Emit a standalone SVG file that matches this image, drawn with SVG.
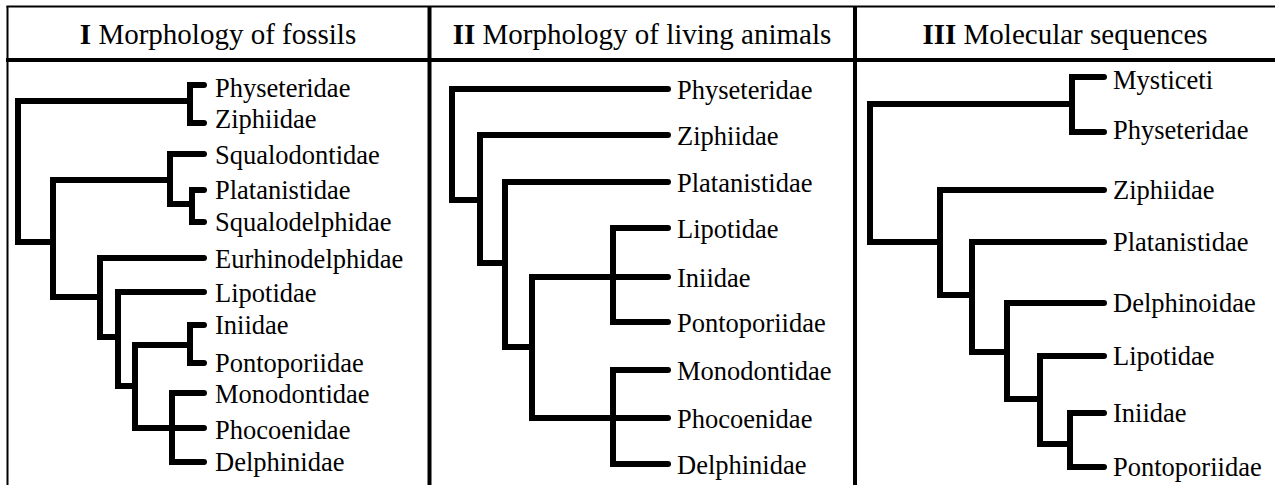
<svg xmlns="http://www.w3.org/2000/svg" width="1275" height="485" viewBox="0 0 1275 485">
<style>
.frame{stroke:#000;fill:none}
.br{stroke:#000;stroke-width:6;fill:none;stroke-linecap:round;stroke-linejoin:miter}
.t{font-family:"Liberation Serif","Times New Roman",serif;font-size:26.5px;fill:#000}
.h{font-family:"Liberation Serif","Times New Roman",serif;font-size:29px;fill:#000;text-anchor:middle}
.b{font-weight:bold}
</style>
<rect width="1275" height="485" fill="#fff"/>
<g id="frame">
<line class="frame" x1="6.5" y1="6.5" x2="1275" y2="6.5" stroke-width="2"/>
<line class="frame" x1="7.5" y1="6" x2="7.5" y2="485" stroke-width="2"/>
<line class="frame" x1="6" y1="60" x2="1275" y2="60" stroke-width="4"/>
<line class="frame" x1="429.5" y1="6" x2="429.5" y2="485" stroke-width="4"/>
<line class="frame" x1="855" y1="6" x2="855" y2="485" stroke-width="4"/>
</g>
<g id="headers">
<g id="h1"><text class="h" x="218" y="44"><tspan class="b">I</tspan> Morphology of fossils</text></g>
<g id="h2"><text class="h" x="642" y="44"><tspan class="b">II</tspan> Morphology of living animals</text></g>
<g id="h3"><text class="h" x="1065" y="44"><tspan class="b">III</tspan> Molecular sequences</text></g>
</g>
<g id="connectors">
<g id="tree1">
<path class="br" d="M53 242 H18 V101 H190"/>
<path class="br" d="M204 85 H190 V123 H204"/>
<path class="br" d="M170 180 H53 V297 H100"/>
<path class="br" d="M204 154 H170 V204 H192"/>
<path class="br" d="M204 190 H192 V222 H204"/>
<path class="br" d="M204 258 H100 V337 H118"/>
<path class="br" d="M204 292 H118 V386 H135"/>
<path class="br" d="M190 345 H135 V428 H204"/>
<path class="br" d="M204 325 H190 V363 H204"/>
<path class="br" d="M204 393 H172 V462 H204"/>
</g>
<g id="tree2">
<path class="br" d="M668 89 H452 V200 H480"/>
<path class="br" d="M668 135 H480 V263 H505"/>
<path class="br" d="M668 182 H505 V347 H532"/>
<path class="br" d="M668 277 H532 V418 H668"/>
<path class="br" d="M668 228 H613 V322 H668"/>
<path class="br" d="M668 370 H613 V464 H668"/>
</g>
<g id="tree3">
<path class="br" d="M940 242 H870 V104 H1072"/>
<path class="br" d="M1104 77 H1072 V132 H1104"/>
<path class="br" d="M1104 190 H940 V295 H972"/>
<path class="br" d="M1104 242 H972 V352 H1007"/>
<path class="br" d="M1104 303 H1007 V399 H1040"/>
<path class="br" d="M1104 356 H1040 V444 H1070"/>
<path class="br" d="M1104 413 H1070 V467 H1104"/>
</g>
</g>
<g id="panel1">
<g id="p1-physeteridae"><text class="t" x="215" y="97">Physeteridae</text></g>
<g id="p1-ziphiidae"><text class="t" x="215" y="128">Ziphiidae</text></g>
<g id="p1-squalodontidae"><text class="t" x="215" y="164">Squalodontidae</text></g>
<g id="p1-platanistidae"><text class="t" x="215" y="199">Platanistidae</text></g>
<g id="p1-squalodelphidae"><text class="t" x="215" y="231">Squalodelphidae</text></g>
<g id="p1-eurhinodelphidae"><text class="t" x="215" y="268">Eurhinodelphidae</text></g>
<g id="p1-lipotidae"><text class="t" x="215" y="302">Lipotidae</text></g>
<g id="p1-iniidae"><text class="t" x="215" y="334">Iniidae</text></g>
<g id="p1-pontoporiidae"><text class="t" x="215" y="372">Pontoporiidae</text></g>
<g id="p1-monodontidae"><text class="t" x="215" y="403">Monodontidae</text></g>
<g id="p1-phocoenidae"><text class="t" x="215" y="439">Phocoenidae</text></g>
<g id="p1-delphinidae"><text class="t" x="215" y="471">Delphinidae</text></g>
</g>
<g id="panel2">
<g id="p2-physeteridae"><text class="t" x="677" y="99">Physeteridae</text></g>
<g id="p2-ziphiidae"><text class="t" x="677" y="145">Ziphiidae</text></g>
<g id="p2-platanistidae"><text class="t" x="677" y="192">Platanistidae</text></g>
<g id="p2-lipotidae"><text class="t" x="677" y="238">Lipotidae</text></g>
<g id="p2-iniidae"><text class="t" x="677" y="287">Iniidae</text></g>
<g id="p2-pontoporiidae"><text class="t" x="677" y="332">Pontoporiidae</text></g>
<g id="p2-monodontidae"><text class="t" x="677" y="380">Monodontidae</text></g>
<g id="p2-phocoenidae"><text class="t" x="677" y="428">Phocoenidae</text></g>
<g id="p2-delphinidae"><text class="t" x="677" y="474">Delphinidae</text></g>
</g>
<g id="panel3">
<g id="p3-mysticeti"><text class="t" x="1113" y="89">Mysticeti</text></g>
<g id="p3-physeteridae"><text class="t" x="1113" y="139">Physeteridae</text></g>
<g id="p3-ziphiidae"><text class="t" x="1113" y="199">Ziphiidae</text></g>
<g id="p3-platanistidae"><text class="t" x="1113" y="251">Platanistidae</text></g>
<g id="p3-delphinoidae"><text class="t" x="1113" y="312">Delphinoidae</text></g>
<g id="p3-lipotidae"><text class="t" x="1113" y="365">Lipotidae</text></g>
<g id="p3-iniidae"><text class="t" x="1113" y="422">Iniidae</text></g>
<g id="p3-pontoporiidae"><text class="t" x="1113" y="476">Pontoporiidae</text></g>
</g>
</svg>
